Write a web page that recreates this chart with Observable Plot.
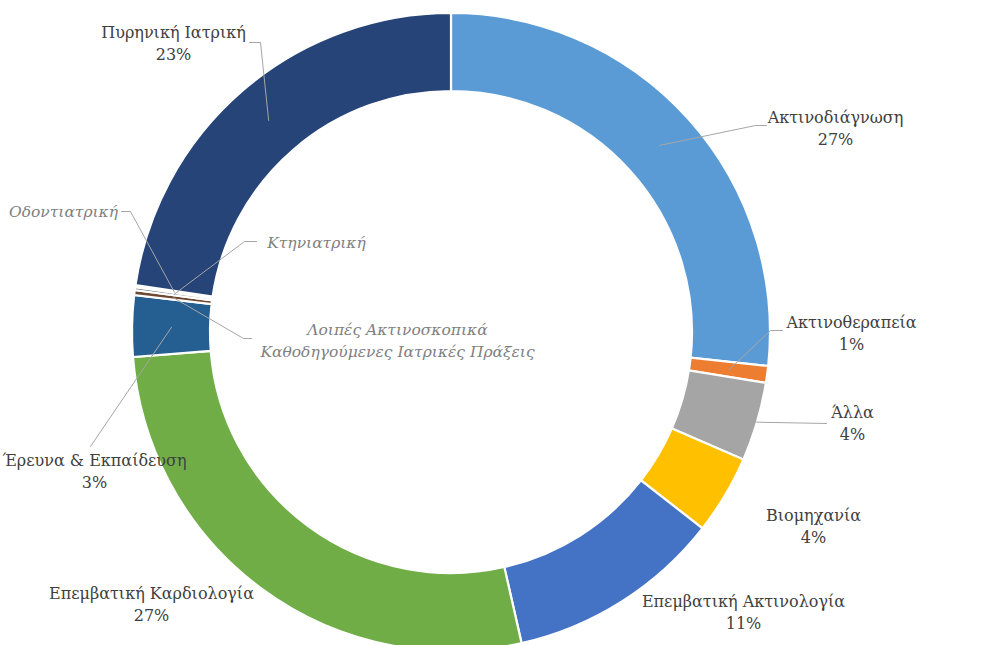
<!DOCTYPE html>
<html>
<head>
<meta charset="utf-8">
<script src="https://cdn.jsdelivr.net/npm/d3@7"></script>
<script src="https://cdn.jsdelivr.net/npm/@observablehq/plot@0.6"></script>
<style>
  html, body { margin: 0; padding: 0; background: #ffffff; }
  #chart svg { display: block; }
</style>
</head>
<body>
<div id="chart"></div>
<script>
// ---------- DATA ----------
const categories = [
  "Ακτινοδιάγνωση",
  "Ακτινοθεραπεία",
  "Άλλα",
  "Βιομηχανία",
  "Επεμβατική Ακτινολογία",
  "Επεμβατική Καρδιολογία",
  "Έρευνα & Εκπαίδευση",
  "Λοιπές Ακτινοσκοπικά\nΚαθοδηγούμενες Ιατρικές Πράξεις",
  "Κτηνιατρική",
  "Οδοντιατρική",
  "Πυρηνική Ιατρική"
];
const values = [26.7, 0.85, 4.0, 4.0, 10.9, 27.3, 3.1, 0.25, 0.15, 0.1, 22.65];
const showPercent = [true, true, true, true, true, true, true, false, false, false, true];
const colors = ["#5B9BD5", "#ED7D31", "#A5A5A5", "#FFC000", "#4472C4", "#70AD47",
                "#255E91", "#6E4A35", "#636363", "#B89B55", "#264478"];

// ---------- LAYOUT (pixel space of the 992x645 chart) ----------
const W = 992, H = 645;
const CX = 451, CY = 332, R_OUT = 319, R_IN = 241;
// label block centre and leader line bend points, per category
const labelLayout = [
  { x: 835, y: 126, leader: [[755, 125], [766, 125]], r: "mid" },
  { x: 851, y: 331, leader: [[770, 330], [782, 330]], r: "mid" },
  { x: 852, y: 421, leader: [[826, 423]], r: "outer" },
  { x: 813, y: 524, leader: null },
  { x: 743, y: 610, leader: null },
  { x: 151, y: 602, leader: null },
  { x: 94, y: 469, leader: [[90, 446]], r: "mid" },
  { x: 397, y: 338, leader: [[243, 338], [251, 338]], r: "mid" },
  { x: 316, y: 240, leader: [[244, 241], [256, 241]], r: "mid" },
  { x: 63, y: 209, leader: [[130, 211], [121, 211]], r: "mid" },
  { x: 173, y: 41, leader: [[260, 42], [249, 42]], r: "mid" }
];

const slices = categories.map((c, i) => ({ name: c, value: values[i], color: colors[i], i }));
const pie = d3.pie().sort(null).value(d => d.value).startAngle(0).endAngle(2 * Math.PI);
const arcs = pie(slices);

// leader lines (start at slice, then bend points)
const leaderPts = [];
arcs.forEach((a, i) => {
  const L = labelLayout[i];
  if (!L.leader) return;
  const mid = (a.startAngle + a.endAngle) / 2;
  const rad = L.r === "outer" ? R_OUT - 1 : (R_OUT + R_IN) / 2;
  leaderPts.push({ k: i, x: CX + rad * Math.sin(mid), y: CY - rad * Math.cos(mid) });
  L.leader.forEach(p => leaderPts.push({ k: i, x: p[0], y: p[1] }));
});

const labels = slices.map((s, i) => ({
  text: showPercent[i] ? `${s.name}\n${Math.round(s.value)}%` : s.name,
  x: labelLayout[i].x,
  y: labelLayout[i].y,
  minor: !showPercent[i]
}));

// custom donut mark drawn through Plot's scales
function donut(index, scales) {
  const cx = scales.x(CX), cy = scales.y(CY);
  const ro = scales.x(CX + R_OUT) - cx;
  const ri = scales.x(CX + R_IN) - cx;
  const arcGen = d3.arc().innerRadius(ri).outerRadius(ro);
  const g = d3.create("svg:g").attr("transform", `translate(${cx},${cy})`);
  g.selectAll("path")
    .data(arcs)
    .join("path")
    .attr("d", arcGen)
    .attr("fill", d => d.data.color)
    .attr("stroke", "#ffffff")
    .attr("stroke-width", 2.2)
    .attr("stroke-linejoin", "miter");
  return g.node();
}

const chart = Plot.plot({
  width: W,
  height: H,
  margin: 0,
  x: { domain: [0, W], range: [0, W], axis: null },
  y: { domain: [0, H], range: [0, H], axis: null },
  style: { background: "#ffffff", overflow: "hidden" },
  marks: [
    donut,
    Plot.line(leaderPts, { x: "x", y: "y", z: "k", stroke: "#A6A6A6", strokeWidth: 1 }),
    Plot.text(labels.filter(d => !d.minor), {
      x: "x", y: "y", text: "text",
      fontFamily: "DejaVu Serif", fontSize: 16, fill: "#404040",
      lineHeight: 1.375, textAnchor: "middle"
    }),
    Plot.text(labels.filter(d => d.minor), {
      x: "x", y: "y", text: "text",
      fontFamily: "DejaVu Serif", fontSize: 15.5, fontStyle: "italic", fill: "#7F7F7F",
      lineHeight: 1.42, textAnchor: "middle"
    })
  ]
});
document.getElementById("chart").appendChild(chart);
</script>
</body>
</html>
